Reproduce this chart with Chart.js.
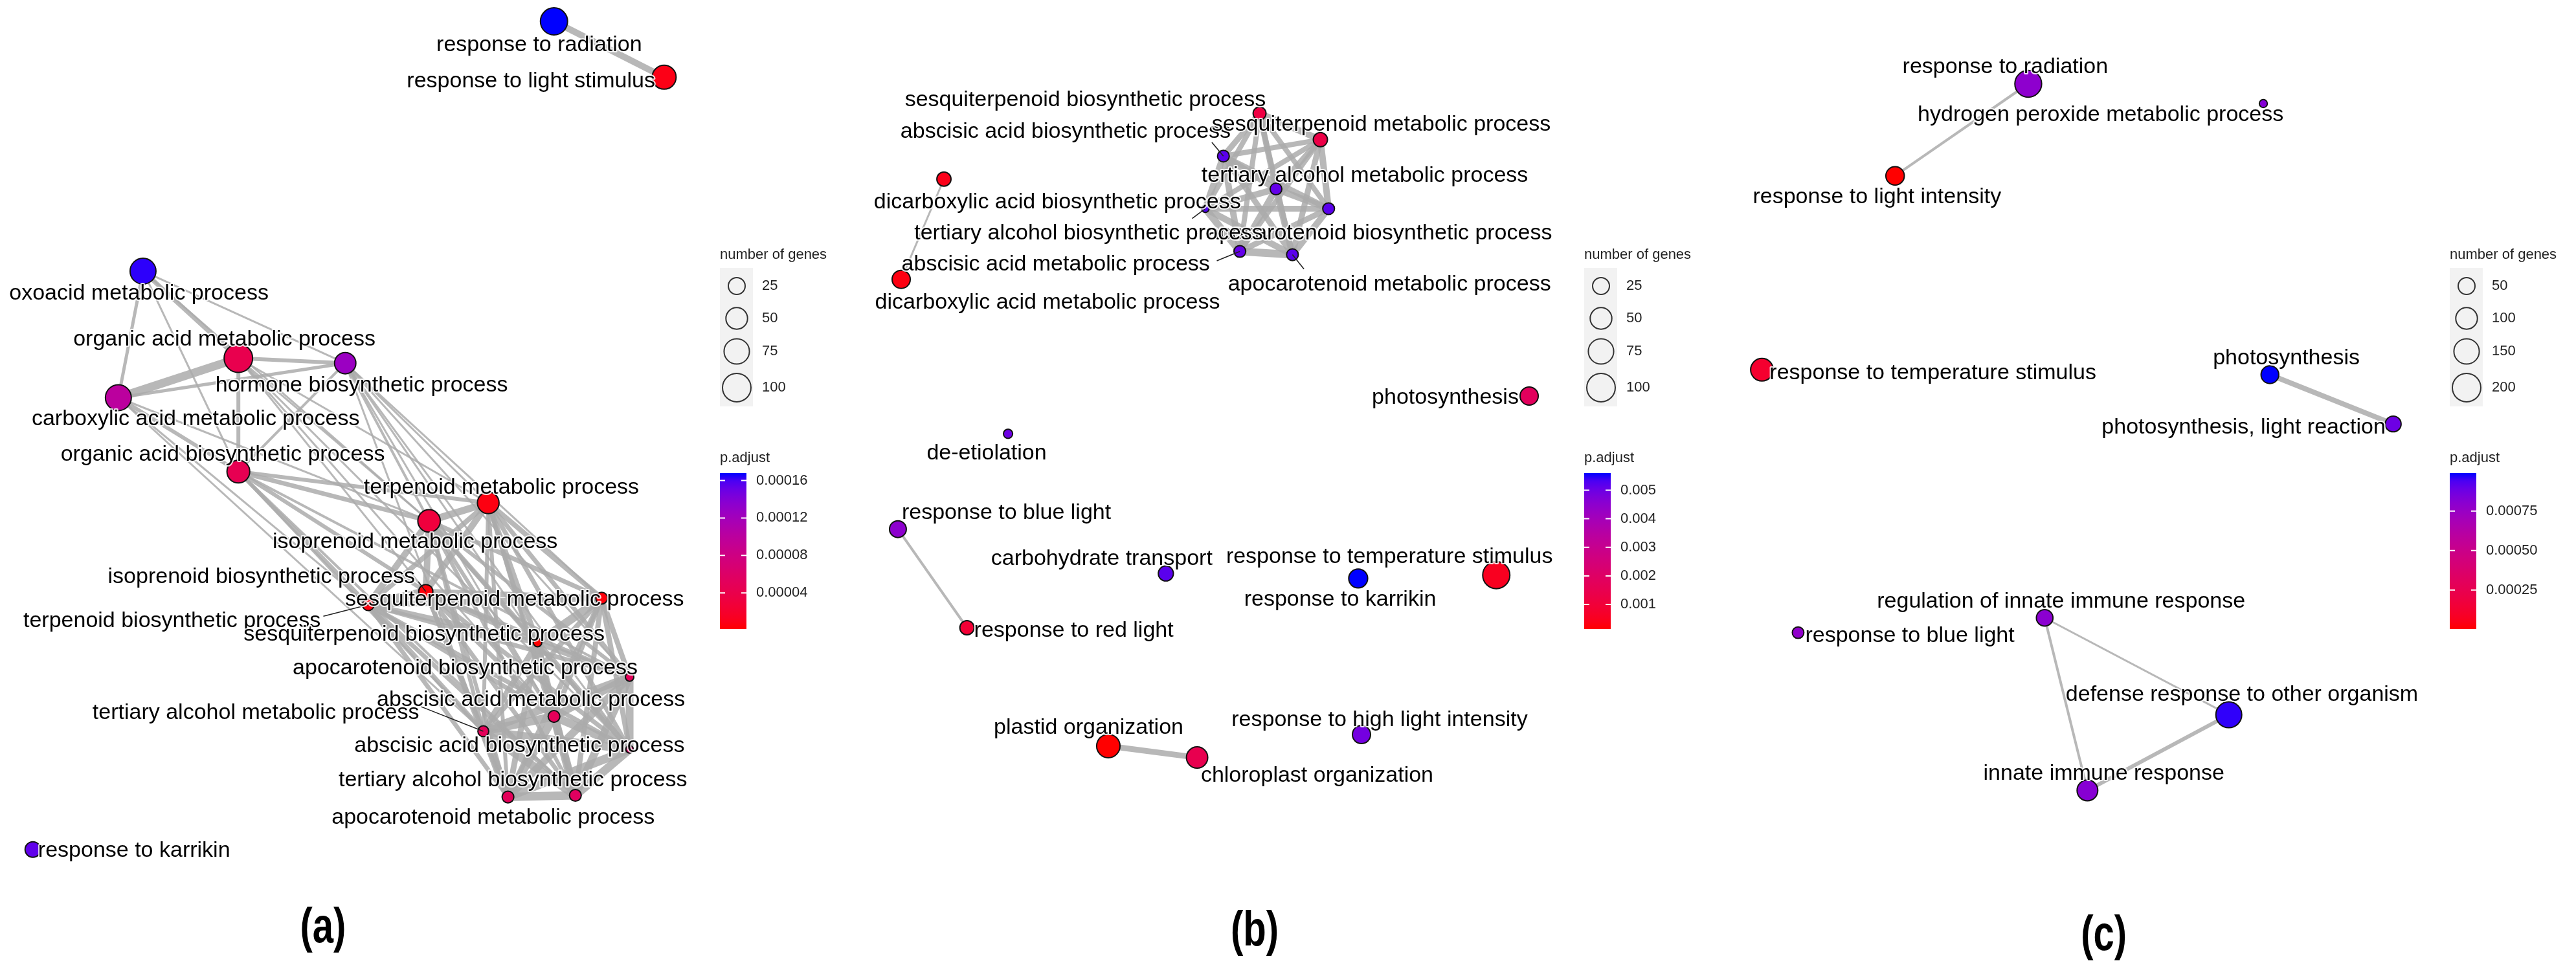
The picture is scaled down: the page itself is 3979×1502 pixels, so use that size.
<!DOCTYPE html>
<html>
<head>
<meta charset="utf-8">
<script src="https://cdn.jsdelivr.net/npm/chart.js@4.4.1/dist/chart.umd.min.js"></script>
<style>
body{margin:0;background:#fff;}
#wrap{position:relative;width:3979px;height:1502px;overflow:hidden;background:#fff;}
canvas{position:absolute;top:0;}
</style>
</head>
<body>
<div id="wrap">
<canvas id="pa" width="1326" height="1502" style="left:0px"></canvas>
<canvas id="pb" width="1327" height="1502" style="left:1326px"></canvas>
<canvas id="pc" width="1326" height="1502" style="left:2653px"></canvas>
</div>
<script>
// ---- panel (a) ----
var termsA = ["response to radiation","response to light stimulus","oxoacid metabolic process","organic acid metabolic process",
	"hormone biosynthetic process","carboxylic acid metabolic process","organic acid biosynthetic process","terpenoid metabolic process",
	"isoprenoid metabolic process","isoprenoid biosynthetic process","sesquiterpenoid metabolic process","terpenoid biosynthetic process",
	"sesquiterpenoid biosynthetic process","apocarotenoid biosynthetic process","abscisic acid metabolic process","tertiary alcohol metabolic process",
	"abscisic acid biosynthetic process","tertiary alcohol biosynthetic process","apocarotenoid metabolic process","response to karrikin"];
var xA = [337,404,87,145,210,72,145,297,261,259,366,224,327,383,337,294,383,350,309,20];
var yA = [13,47,165,218,221,242,287,306,317,360,364,368,391,412,436,445,456,484,485,517];
var genesA = [89,65,79,100,48,79,57,50,55,15,8,8,2,2,8,6,1,8,8,20];
var padjA = [0.000168,0.000008,0.000165,0.000042,0.000126,0.0001,0.000045,0.000006,0.00003,0.000004,0.000004,0.000005,0.0000014,0.00005,0.00005,0.00005,0.00006,0.000055,0.00005,0.000154];
var edgesA = [[0,1,10],
	[2,3,7],[2,5,5],[2,6,3],[2,4,3],[2,8,3],
	[3,5,13],[3,4,6],[3,6,6],[3,7,3],[3,8,3],[3,9,3],[3,14,3],[3,16,3],
	[5,4,5],[5,6,6],[5,8,3],[5,11,3],[5,15,3],
	[4,6,4],[4,7,3],[4,8,4],[4,10,3],[4,12,3],[4,14,3],[4,13,3],[4,16,3],[4,18,3],
	[6,7,6],[6,8,7],[6,9,6],[6,11,6],[6,13,4],[6,15,4],[6,17,4],
	[7,8,11],[7,9,10],[7,10,8],[7,11,8],[7,12,8],[7,13,7],[7,14,7],[7,16,7],[7,15,6],[7,17,6],[7,18,6],
	[8,9,10],[8,11,10],[8,10,7],[8,12,7],[8,13,6],[8,14,6],[8,16,6],[8,15,6],[8,17,6],[8,18,6],
	[9,11,13],[9,10,9],[9,12,9],[9,13,7],[9,14,7],[9,15,7],[9,16,7],[9,17,7],[9,18,7],
	[11,10,9],[11,12,9],[11,13,7],[11,14,7],[11,15,7],[11,16,7],[11,17,7],[11,18,7],
	[10,12,13],[10,13,8],[10,14,8],[10,15,8],[10,16,8],[10,17,8],[10,18,8],
	[12,13,9],[12,14,9],[12,15,9],[12,16,9],[12,17,9],[12,18,9],
	[13,14,12],[13,15,12],[13,16,12],[13,17,12],[13,18,12],
	[14,15,13],[14,16,13],[14,17,13],[14,18,13],
	[15,16,13],[15,17,13],[15,18,13],
	[16,17,13],[16,18,13],[17,18,13]];
var sizeBreaksA = [25,50,75,100];
var padjTicksA = ["0.00004","0.00008","0.00012","0.00016"];

// ---- panel (b) ----
var termsB = ["sesquiterpenoid biosynthetic process","abscisic acid biosynthetic process","sesquiterpenoid metabolic process","tertiary alcohol metabolic process",
	"apocarotenoid biosynthetic process","tertiary alcohol biosynthetic process","abscisic acid metabolic process","apocarotenoid metabolic process",
	"dicarboxylic acid biosynthetic process","dicarboxylic acid metabolic process","photosynthesis","de-etiolation",
	"response to blue light","response to red light","carbohydrate transport","response to temperature stimulus",
	"response to karrikin","plastid organization","chloroplast organization","response to high light intensity"];
var xB = [244,222,281,254,286,211,232,264,52,26,408,91,24,66,187,388,304,152,206,306];
var yB = [69,95,85,115,127,127,153,155,109,170,241,264,322,382,349,350,352,454,461,447];
var genesB = [11,8,15,8,8,1,8,8,15,31,31,3,25,15,18,89,35,61,48,31];
var padjB = [0.0012,0.0052,0.0013,0.0051,0.0052,0.0053,0.0051,0.0052,0.0004,0.0003,0.0018,0.005,0.0045,0.0009,0.0052,0.0005,0.0056,0.00014,0.0015,0.0049];
var edgesB = [[0,1,9],[0,2,10],[0,3,9],[0,4,8],[0,5,8],[0,6,8],[0,7,8],
	[1,2,8],[1,3,10],[1,4,9],[1,5,10],[1,6,10],[1,7,9],
	[2,3,9],[2,4,10],[2,5,8],[2,6,8],[2,7,9],
	[3,4,10],[3,5,10],[3,6,10],[3,7,10],
	[4,5,9],[4,6,9],[4,7,10],
	[5,6,11],[5,7,10],[6,7,12],
	[8,9,3],[12,13,4],[17,18,9]];
var sizeBreaksB = [25,50,75,100];
var padjTicksB = ["0.001","0.002","0.003","0.004","0.005"];

// ---- panel (c) ----
var termsC = ["response to radiation","hydrogen peroxide metabolic process","response to light intensity","response to temperature stimulus",
	"photosynthesis","photosynthesis, light reaction","regulation of innate immune response","response to blue light",
	"defense response to other organism","innate immune response"];
var xC = [189,332,108,27,336,411,199,49,311,225];
var yC = [51,63,107,225,228,258,376,385,435,481];
var genesC = [172,3,65,112,58,42,48,15,158,89];
var padjC = [0.00079,0.00082,0.000004,0.00012,0.00099,0.00088,0.0008,0.00078,0.00097,0.00081];
var edgesC = [[0,2,4],[4,5,8],[6,8,3],[6,9,4],[9,8,6]];
var sizeBreaksC = [50,100,150,200];
var padjTicksC = ["0.00025","0.00050","0.00075"];

// ---- layout (label placement, legend, sizes) ----
var UNIT = 3979 / 1567;
var labXA = [328,323,84.5,136.5,220,119,135.5,305,252.5,159,313,104.6,258,283,323,155.6,316,312,300,81.6];
var labYA = [27.3,49.6,178.5,206.6,234.7,255,276.6,296.8,330,351,365,378,386,406.8,426,434,454,474.6,497.7,517.8];
var leadA = [[9,254.5,354],[11,196.7,375],[15,256,430]];
var labXB = [138,126,318,308,317,140,120,323,121,115,357,78,90,131,148,323,293,140,279,317];
var labYB = [61,80,76,107,142,142,161,173,123,184,242,276,312,384,340,339,365,443,472,438];
var leadB = [[1,215,86.6],[5,203,133],[6,218,158.7],[7,271,163.7]];
var labXC = [175,233,97,131,346,320,209,117,319,235];
var labYC = [41,70,120,227,218,260,366,387,423,471];
var leadC = [];

function toLin(c){ c /= 255; return c <= 0.04045 ? c/12.92 : Math.pow((c+0.055)/1.055, 2.4); }
function rgb2lab(rgb){
	var r = toLin(rgb[0]), g = toLin(rgb[1]), b = toLin(rgb[2]);
	var X = (0.4124*r + 0.3576*g + 0.1805*b)/0.95047, Y = 0.2126*r + 0.7152*g + 0.0722*b, Z = (0.0193*r + 0.1192*g + 0.9505*b)/1.08883;
	var f = function(t){ return t > 0.008856 ? Math.cbrt(t) : 7.787*t + 16/116; };
	return [116*f(Y)-16, 500*(f(X)-f(Y)), 200*(f(Y)-f(Z))];
}
function lab2rgb(lab){
	var fy = (lab[0]+16)/116, fx = fy + lab[1]/500, fz = fy - lab[2]/200;
	var fi = function(t){ return t*t*t > 0.008856 ? t*t*t : (t-16/116)/7.787; };
	var X = fi(fx)*0.95047, Y = fi(fy), Z = fi(fz)*1.08883;
	var r = 3.2406*X - 1.5372*Y - 0.4986*Z, g = -0.9689*X + 1.8758*Y + 0.0415*Z, b = 0.0557*X - 0.2040*Y + 1.0570*Z;
	var gam = function(c){ c = c <= 0.0031308 ? 12.92*c : 1.055*Math.pow(c, 1/2.4) - 0.055; return Math.round(Math.max(0, Math.min(1, c))*255); };
	return "rgb(" + gam(r) + "," + gam(g) + "," + gam(b) + ")";
}
var LAB_LOW = rgb2lab([255,0,0]), LAB_HIGH = rgb2lab([0,0,255]);
function padjColour(v, lo, hi){
	var t = Math.max(0, Math.min(1, (v-lo)/(hi-lo)));
	return lab2rgb([0,1,2].map(function(i){ return LAB_LOW[i] + (LAB_HIGH[i]-LAB_LOW[i])*t; }));
}
function radius(n, ref){ return 4 + 18*Math.sqrt(n/ref); }

var FONT = '"Liberation Sans", Arial, sans-serif';
var netText = {
	id: 'netText',
	afterDatasetsDraw: function(chart, args, opts){
		var P = opts.panel, ctx = chart.ctx, sx = chart.scales.x, sy = chart.scales.y;
		ctx.save();
		// ggrepel segments
		ctx.strokeStyle = '#222'; ctx.lineWidth = 1.6;
		P.leaders.forEach(function(l){
			ctx.beginPath();
			ctx.moveTo(sx.getPixelForValue(l[1]), sy.getPixelForValue(l[2]));
			ctx.lineTo(sx.getPixelForValue(P.x[l[0]]), sy.getPixelForValue(P.y[l[0]]));
			ctx.stroke();
		});
		// node labels
		ctx.font = '34px ' + FONT; ctx.textAlign = 'center'; ctx.textBaseline = 'middle'; ctx.lineJoin = 'round';
		P.terms.forEach(function(t, i){
			var px = sx.getPixelForValue(P.labX[i]), py = sy.getPixelForValue(P.labY[i]);
			ctx.strokeStyle = 'rgba(255,255,255,0.85)'; ctx.lineWidth = 4; ctx.strokeText(t, px, py);
			ctx.fillStyle = '#000'; ctx.fillText(t, px, py);
		});
		// panel tag (condensed bold)
		ctx.save();
		ctx.translate(sx.getPixelForValue(P.tagX), sy.getPixelForValue(P.tagY));
		ctx.scale(0.88, 1.15);
		ctx.font = 'bold 66px ' + FONT;
		ctx.fillText(P.tag, 0, 0);
		ctx.restore();
		// size legend
		var x0 = P.legX;
		ctx.textAlign = 'left'; ctx.font = '22px ' + FONT; ctx.fillStyle = '#222';
		ctx.fillText('number of genes', x0, 394);
		ctx.fillStyle = '#f2f2f2'; ctx.fillRect(x0, 414, 51, 214);
		var rowY = [442, 492, 543, 599];
		P.sizeBreaks.forEach(function(b, i){
			ctx.beginPath(); ctx.arc(x0+26, rowY[i], radius(b, P.ref), 0, 2*Math.PI);
			ctx.strokeStyle = '#333'; ctx.lineWidth = 2; ctx.stroke();
			ctx.fillStyle = '#222'; ctx.fillText(String(b), x0+65, rowY[i]);
		});
		// colour bar
		ctx.fillText('p.adjust', x0, 708);
		var top = 731, bot = 972, w = 41;
		var grad = ctx.createLinearGradient(0, bot, 0, top);
		for (var k = 0; k <= 20; k++) grad.addColorStop(k/20, padjColour(P.lo + (P.hi-P.lo)*k/20, P.lo, P.hi));
		ctx.fillStyle = grad; ctx.fillRect(x0, top, w, bot-top);
		P.ticks.forEach(function(s){
			var y = bot - (parseFloat(s)-P.lo)/(P.hi-P.lo)*(bot-top);
			ctx.strokeStyle = '#fff'; ctx.lineWidth = 2;
			ctx.beginPath(); ctx.moveTo(x0, y); ctx.lineTo(x0+8, y); ctx.moveTo(x0+w-8, y); ctx.lineTo(x0+w, y); ctx.stroke();
			ctx.fillStyle = '#222'; ctx.fillText(s, x0+56, y);
		});
		ctx.restore();
	}
};

function drawPanel(id, P){
	var canvas = document.getElementById(id);
	P.lo = Math.min.apply(null, P.padj); P.hi = Math.max.apply(null, P.padj);
	var datasets = [];
	P.edges.forEach(function(e){
		datasets.push({
			type: 'line',
			data: [{x: P.x[e[0]], y: P.y[e[0]]}, {x: P.x[e[1]], y: P.y[e[1]]}],
			borderColor: 'rgba(172,172,172,0.85)', borderWidth: e[2],
			pointRadius: 0, pointHoverRadius: 0, fill: false, tension: 0, clip: false, order: 2
		});
	});
	datasets.push({
		type: 'bubble',
		data: P.terms.map(function(t, i){ return {x: P.x[i], y: P.y[i], r: radius(P.genes[i], P.ref)}; }),
		backgroundColor: P.padj.map(function(v){ return padjColour(v, P.lo, P.hi); }),
		borderColor: '#111', borderWidth: 2, hoverRadius: 0, clip: false, order: 1
	});
	new Chart(canvas, {
		type: 'bubble',
		data: {datasets: datasets},
		options: {
			responsive: false, animation: false, devicePixelRatio: 1, events: [],
			layout: {padding: 0, autoPadding: false},
			plugins: {legend: {display: false}, tooltip: {enabled: false}, netText: {panel: P}},
			scales: {
				x: {type: 'linear', min: 0, max: canvas.width/UNIT, display: false},
				y: {type: 'linear', min: 0, max: canvas.height/UNIT, reverse: true, display: false}
			}
		},
		plugins: [netText]
	});
}

drawPanel('pa', {terms: termsA, x: xA, y: yA, genes: genesA, padj: padjA, edges: edgesA, sizeBreaks: sizeBreaksA, ticks: padjTicksA,
	ref: 100, labX: labXA, labY: labYA, leaders: leadA, tag: '(a)', tagX: 196.5, tagY: 565, legX: 1112});
drawPanel('pb', {terms: termsB, x: xB, y: yB, genes: genesB, padj: padjB, edges: edgesB, sizeBreaks: sizeBreaksB, ticks: padjTicksB,
	ref: 100, labX: labXB, labY: labYB, leaders: leadB, tag: '(b)', tagX: 241, tagY: 567, legX: 1121});
drawPanel('pc', {terms: termsC, x: xC, y: yC, genes: genesC, padj: padjC, edges: edgesC, sizeBreaks: sizeBreaksC, ticks: padjTicksC,
	ref: 200, labX: labXC, labY: labYC, leaders: leadC, tag: '(c)', tagX: 235, tagY: 570, legX: 1131});
</script>
</body>
</html>
